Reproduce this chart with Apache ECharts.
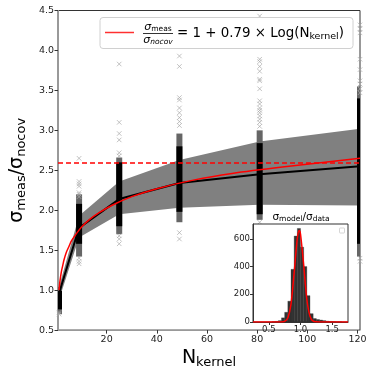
<!DOCTYPE html>
<html>
<head>
<meta charset="utf-8">
<script src="https://cdn.jsdelivr.net/npm/echarts@6.0.0/dist/echarts.min.js"></script>
<style>
  html, body {margin: 0; padding: 0; background: #fff;}
  #chart {width: 374px; height: 374px;}
</style>
</head>
<body>
<div id="chart"></div>
<script>
  /******************/
  //region    //data

  const kernelN = [1, 9, 25, 49, 81, 121];
  const meanRatio = [0.96, 1.78, 2.14, 2.34, 2.45, 2.55];
  const bandLow = [0.88, 1.66, 1.95, 2.03, 2.07, 2.06];
  const bandHigh = [1.04, 1.93, 2.36, 2.63, 2.86, 3.02];

  // dense part of each column of crosses
  const coreLow = [0.76, 1.58, 1.80, 1.98, 1.95, 1.58];
  const coreHigh = [0.99, 2.08, 2.60, 2.80, 2.84, 3.40];
  const spreadLow = [0.70, 1.42, 1.70, 1.85, 1.88, 1.42];
  const spreadHigh = [1.04, 2.20, 2.66, 2.96, 3.00, 3.55];

  // isolated crosses, one list per kernel size
  const outliers = [
    [0.72, 0.70],
    [2.65, 2.36, 2.33, 2.30, 2.22, 2.20, 2.17, 1.40, 1.36, 1.33],
    [3.83, 3.10, 2.96, 2.88, 2.72, 2.68, 1.68, 1.64, 1.58],
    [3.93, 3.80, 3.41, 3.38, 3.28, 3.22, 3.16, 3.11, 3.06, 1.72, 1.64],
    [4.43, 3.89, 3.86, 3.80, 3.74, 3.64, 3.62, 3.52, 3.37, 3.33, 3.28, 3.25, 3.22, 3.18, 3.14, 3.10, 3.05, 1.85, 1.80],
    [4.32, 4.27, 4.22, 3.89, 3.76, 3.62, 3.58, 3.52, 3.47, 1.40, 1.36]
  ];

  // red fitted curve
  const fitN = [1, 1.25, 1.5, 2, 2.5, 3, 4, 5, 6, 8, 10, 13, 17, 22, 30, 40, 55, 70, 90, 121];
  const fitRatio = [1.00, 1.08, 1.14, 1.24, 1.31, 1.38, 1.48, 1.55, 1.62, 1.71, 1.79, 1.88, 1.97, 2.06, 2.17, 2.27, 2.38, 2.46, 2.54, 2.65];
  const refLevel = 2.6;
  const xTicks = [20, 40, 60, 80, 100, 120];

  // inset histogram
  const histCenters = [0.575, 0.625, 0.675, 0.725, 0.775, 0.825, 0.875, 0.925, 0.975, 1.025, 1.075, 1.125, 1.175, 1.225, 1.275, 1.325, 1.375, 1.425, 1.475, 1.525, 1.575, 1.625];
  const histCounts = [2, 4, 10, 30, 70, 150, 380, 620, 675, 540, 400, 190, 60, 25, 18, 14, 10, 6, 4, 3, 1, 1];
  const binWidth = 0.05;
  const gaussX = [0.25, 0.6, 0.7, 0.75, 0.8, 0.85, 0.9, 0.95, 0.98, 1.0, 1.05, 1.1, 1.15, 1.2, 1.3, 1.75];
  const gaussY = [0, 0, 0, 4, 29, 129, 356, 605, 660, 635, 412, 164, 41, 6, 0, 0];
  const histCuts = [0.80, 1.146];
  const insetXTicks = [0.5, 1.0, 1.5];
  const insetYTicks = [0, 200, 400, 600];

  //endregion

  /******************/
  //region    //chart

  const FONT = 'DejaVu Sans';
  let chart = echarts.init(document.getElementById('chart'));

  // vertical block for a column of crosses, cut at the plot frame
  function columnRect(color, halfW) {
    return function (params, api) {
      let top = api.coord([api.value(0), api.value(2)]);
      let bot = api.coord([api.value(0), api.value(1)]);
      let cs = params.coordSys;
      let x0 = Math.max(top[0] - halfW, cs.x);
      let x1 = Math.min(top[0] + halfW, cs.x + cs.width);
      return {
        type: 'rect',
        shape: {x: x0, y: top[1], width: x1 - x0, height: bot[1] - top[1]},
        style: {fill: color}
      };
    };
  }

  let subRich = {
    b: {fontFamily: FONT, fontSize: 19, color: '#000'},
    s: {fontFamily: FONT, fontSize: 13, color: '#000', padding: [8, 0, 0, 0]}
  };

  let outlierPts = [];
  outliers.forEach((list, i) => list.forEach(v => outlierPts.push([kernelN[i], v])));

  let option = {
    animation: false,
    grid: [
      {left: 44, right: 14, top: 10.5, bottom: 40, show: true, borderColor: '#333', borderWidth: 1, backgroundColor: 'transparent'},
      {left: 253, top: 224, width: 95, height: 98, show: true, borderColor: '#333', borderWidth: 1, backgroundColor: '#fff', z: 10}
    ],
    xAxis: [
      {
        type: 'value', gridIndex: 0, min: 0.6, max: 121,
        name: '{b|N}{s|kernel}', nameLocation: 'middle', nameGap: 13,
        nameTextStyle: {rich: subRich},
        axisLine: {lineStyle: {color: '#999', width: 1}},
        axisTick: {customValues: xTicks, length: 3.5, lineStyle: {color: '#333'}},
        axisLabel: {customValues: xTicks, fontFamily: FONT, fontSize: 9.5, color: '#222', margin: 4},
        splitLine: {show: false}
      },
      {
        type: 'value', gridIndex: 1, min: 0.25, max: 1.75, z: 12,
        axisLine: {lineStyle: {color: '#333', width: 1}},
        axisTick: {customValues: insetXTicks, length: 3, lineStyle: {color: '#333'}},
        axisLabel: {customValues: insetXTicks, formatter: v => v.toFixed(1), fontFamily: FONT, fontSize: 8.5, color: '#222', margin: 3},
        splitLine: {show: false}
      }
    ],
    yAxis: [
      {
        type: 'value', gridIndex: 0, min: 0.5, max: 4.5, interval: 0.5,
        name: '{b|σ}{s|meas}{b|/σ}{s|nocov}', nameLocation: 'middle', nameGap: 22,
        nameTextStyle: {rich: subRich},
        axisLine: {show: true, lineStyle: {color: '#999', width: 1}},
        axisTick: {show: true, length: 3.5, lineStyle: {color: '#333'}},
        axisLabel: {formatter: v => v.toFixed(1), fontFamily: FONT, fontSize: 9.5, color: '#222', margin: 4},
        splitLine: {show: false}
      },
      {
        type: 'value', gridIndex: 1, min: 0, max: 707, z: 12,
        axisLine: {show: true, lineStyle: {color: '#333', width: 1}},
        axisTick: {show: true, customValues: insetYTicks, length: 3, lineStyle: {color: '#333'}},
        axisLabel: {customValues: insetYTicks, fontFamily: FONT, fontSize: 8.5, color: '#222', margin: 3},
        splitLine: {show: false}
      }
    ],
    series: [
      {
        type: 'custom', xAxisIndex: 0, yAxisIndex: 0, z: 1,
        data: kernelN.map((n, i) => [n, bandLow[i], bandHigh[i]]),
        renderItem: function (params, api) {
          if (params.dataIndex !== 0) return;
          let pts = kernelN.map((n, i) => api.coord([n, bandHigh[i]]));
          for (let i = kernelN.length - 1; i >= 0; i--) pts.push(api.coord([kernelN[i], bandLow[i]]));
          return {type: 'polygon', shape: {points: pts}, style: {fill: '#808080'}};
        }
      },
      {
        type: 'custom', xAxisIndex: 0, yAxisIndex: 0, z: 2,
        data: kernelN.map((n, i) => [n, spreadLow[i], spreadHigh[i]]),
        renderItem: columnRect('#666', 3)
      },
      {
        type: 'custom', xAxisIndex: 0, yAxisIndex: 0, z: 2,
        data: kernelN.map((n, i) => [n, coreLow[i], coreHigh[i]]),
        renderItem: columnRect('#000', 3)
      },
      {
        type: 'scatter', xAxisIndex: 0, yAxisIndex: 0, z: 2,
        symbol: 'path://M0,0L10,10M10,0L0,10', symbolSize: 4.5,
        itemStyle: {color: 'transparent', borderColor: '#aaa', borderWidth: 0.9},
        data: outlierPts
      },
      {
        type: 'line', xAxisIndex: 0, yAxisIndex: 0, z: 3,
        symbol: 'none', lineStyle: {color: '#000', width: 2},
        data: kernelN.map((n, i) => [n, meanRatio[i]])
      },
      {
        type: 'line', xAxisIndex: 0, yAxisIndex: 0, z: 4,
        symbol: 'none', smooth: 0.3, lineStyle: {color: '#ff0000', width: 1.5},
        data: fitN.map((n, i) => [n, fitRatio[i]]),
        markLine: {
          silent: true, symbol: 'none', label: {show: false},
          lineStyle: {color: '#ff0000', type: [5, 3], width: 1.5},
          data: [{yAxis: refLevel}]
        }
      },
      {
        type: 'custom', xAxisIndex: 1, yAxisIndex: 1, z: 11,
        data: histCenters.map((c, i) => [c, histCounts[i]]),
        renderItem: function (params, api) {
          let p0 = api.coord([api.value(0) - binWidth / 2, api.value(1)]);
          let p1 = api.coord([api.value(0) + binWidth / 2, 0]);
          return {
            type: 'rect',
            shape: {x: p0[0], y: p0[1], width: p1[0] - p0[0], height: p1[1] - p0[1]},
            style: {fill: '#333', stroke: '#2a2a2a', lineWidth: 0.3}
          };
        }
      },
      {
        type: 'line', xAxisIndex: 1, yAxisIndex: 1, z: 12,
        symbol: 'none', smooth: 0.3, lineStyle: {color: '#ff0000', width: 1.5},
        data: gaussX.map((x, i) => [x, gaussY[i]]),
        markLine: {
          silent: true, symbol: 'none', label: {show: false},
          lineStyle: {color: '#ff0000', type: [3, 2], width: 1.2},
          data: histCuts.map(v => ({xAxis: v}))
        }
      }
    ],
    graphic: [
      // legend of the main panel
      {type: 'rect', z: 20, shape: {x: 100, y: 17.5, width: 253, height: 31, r: 3}, style: {fill: 'rgba(255,255,255,0.85)', stroke: '#d0d0d0', lineWidth: 1}},
      {type: 'line', z: 21, shape: {x1: 105, y1: 32.5, x2: 134, y2: 32.5}, style: {stroke: '#ff3030', lineWidth: 1.5}},
      {type: 'text', z: 21, x: 158, y: 27, style: {text: '{i|σ}{s|meas}', align: 'center', verticalAlign: 'middle',
        rich: {i: {fontFamily: FONT, fontSize: 11, fontStyle: 'italic'}, s: {fontFamily: FONT, fontSize: 7.5, padding: [4, 0, 0, 0]}}}},
      {type: 'line', z: 21, shape: {x1: 143, y1: 33.5, x2: 173, y2: 33.5}, style: {stroke: '#000', lineWidth: 0.8}},
      {type: 'text', z: 21, x: 158, y: 40, style: {text: '{i|σ}{s|nocov}', align: 'center', verticalAlign: 'middle',
        rich: {i: {fontFamily: FONT, fontSize: 11, fontStyle: 'italic'}, s: {fontFamily: FONT, fontSize: 7.5, fontStyle: 'italic', padding: [4, 0, 0, 0]}}}},
      {type: 'text', z: 21, x: 177, y: 33.5, style: {text: '{m|= 1 + 0.79 × Log(N}{s|kernel}{m|)}', align: 'left', verticalAlign: 'middle',
        rich: {m: {fontFamily: FONT, fontSize: 13.4, color: '#000'}, s: {fontFamily: FONT, fontSize: 9.5, color: '#000', padding: [7, 0, 0, 0]}}}},
      // inset title and its empty legend box
      {type: 'text', z: 21, x: 301, y: 217.5, style: {text: '{b|σ}{s|model}{b|/σ}{s|data}', align: 'center', verticalAlign: 'middle',
        rich: {b: {fontFamily: FONT, fontSize: 10.5, color: '#000'}, s: {fontFamily: FONT, fontSize: 7.5, color: '#000', padding: [4, 0, 0, 0]}}}},
      {type: 'rect', z: 21, shape: {x: 339.5, y: 228, width: 5, height: 5, r: 0.5}, style: {fill: '#fff', stroke: '#ccc', lineWidth: 0.8}}
    ]
  };

  chart.setOption(option);

  //endregion
</script>
</body>
</html>
